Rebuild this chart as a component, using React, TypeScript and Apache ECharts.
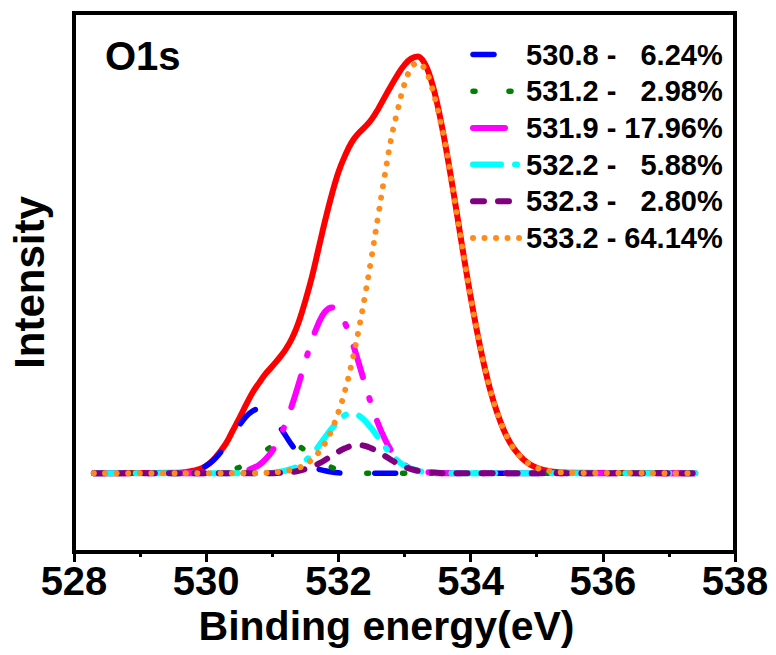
import React, { useEffect, useRef } from "react";
import * as echarts from "echarts";

// Binding energy grid (eV)
const energy = [
  528.3,
  529.6, 529.7, 529.8, 529.9, 530.0, 530.1, 530.2, 530.3, 530.4, 530.5,
  530.6, 530.7, 530.8, 530.9, 531.0, 531.1, 531.2, 531.3, 531.4, 531.5,
  531.6, 531.7, 531.8, 531.9, 532.0, 532.1, 532.2, 532.3, 532.4, 532.5,
  532.6, 532.7, 532.8, 532.9, 533.0, 533.1, 533.2, 533.3, 533.4, 533.5,
  533.6, 533.7, 533.8, 533.9, 534.0, 534.1, 534.2, 534.3, 534.4, 534.5,
  534.6, 534.7, 534.8, 534.9, 535.0, 535.1, 535.2, 535.3, 535.4, 535.5,
  537.4,
];

// Envelope (sum fit)
const envelope = [
  0,
  0.001, 0.003, 0.006, 0.010, 0.018, 0.031, 0.050, 0.072, 0.102, 0.132,
  0.164, 0.194, 0.218, 0.240, 0.258, 0.277, 0.298, 0.326, 0.365, 0.416,
  0.474, 0.542, 0.610, 0.672, 0.726, 0.766, 0.798, 0.819, 0.835, 0.853,
  0.878, 0.907, 0.935, 0.962, 0.985, 1.000, 1.005, 0.990, 0.950, 0.888,
  0.808, 0.717, 0.619, 0.520, 0.426, 0.340, 0.264, 0.199, 0.147, 0.105,
  0.073, 0.050, 0.033, 0.021, 0.013, 0.008, 0.005, 0.003, 0.002, 0.001,
  0,
];

const peak5308 = [
  0,
  0.001, 0.003, 0.006, 0.010, 0.018, 0.030, 0.047, 0.067, 0.091, 0.115,
  0.136, 0.150, 0.155, 0.150, 0.136, 0.115, 0.091, 0.067, 0.047, 0.030,
  0.018, 0.010, 0.006, 0.003, 0.001, 0, 0, 0, 0, 0,
  0, 0, 0, 0, 0, 0, 0, 0, 0, 0,
  0, 0, 0, 0, 0, 0, 0, 0, 0, 0,
  0, 0, 0, 0, 0, 0, 0, 0, 0, 0,
  0,
];

const peak5312 = [
  0,
  0, 0, 0, 0, 0, 0.001, 0.003, 0.005, 0.009, 0.014,
  0.022, 0.032, 0.043, 0.055, 0.065, 0.072, 0.074, 0.072, 0.065, 0.055,
  0.043, 0.032, 0.022, 0.014, 0.009, 0.005, 0.003, 0.001, 0, 0,
  0, 0, 0, 0, 0, 0, 0, 0, 0, 0,
  0, 0, 0, 0, 0, 0, 0, 0, 0, 0,
  0, 0, 0, 0, 0, 0, 0, 0, 0, 0,
  0,
];

const peak5319 = [
  0,
  0, 0, 0, 0, 0, 0, 0, 0, 0.002, 0.003,
  0.006, 0.012, 0.020, 0.034, 0.054, 0.083, 0.120, 0.165, 0.216, 0.270,
  0.320, 0.362, 0.390, 0.400, 0.390, 0.362, 0.320, 0.270, 0.216, 0.165,
  0.120, 0.083, 0.054, 0.034, 0.020, 0.012, 0.006, 0.003, 0.002, 0,
  0, 0, 0, 0, 0, 0, 0, 0, 0, 0,
  0, 0, 0, 0, 0, 0, 0, 0, 0, 0,
  0,
];

const peak5322 = [
  0,
  0, 0, 0, 0, 0, 0, 0, 0, 0, 0,
  0, 0, 0, 0, 0.001, 0.003, 0.006, 0.011, 0.018, 0.030,
  0.045, 0.065, 0.087, 0.108, 0.127, 0.140, 0.145, 0.140, 0.127, 0.108,
  0.087, 0.065, 0.045, 0.030, 0.018, 0.011, 0.006, 0.003, 0.001, 0,
  0, 0, 0, 0, 0, 0, 0, 0, 0, 0,
  0, 0, 0, 0, 0, 0, 0, 0, 0, 0,
  0,
];

const peak5323 = [
  0,
  0, 0, 0, 0, 0, 0, 0, 0, 0, 0,
  0, 0, 0, 0, 0, 0.001, 0.002, 0.003, 0.006, 0.010,
  0.015, 0.023, 0.032, 0.042, 0.052, 0.060, 0.066, 0.068, 0.066, 0.060,
  0.052, 0.042, 0.032, 0.023, 0.015, 0.010, 0.006, 0.003, 0.002, 0.001,
  0, 0, 0, 0, 0, 0, 0, 0, 0, 0,
  0, 0, 0, 0, 0, 0, 0, 0, 0, 0,
  0,
];

const peak5332 = [
  0,
  0, 0, 0, 0, 0, 0, 0, 0, 0, 0,
  0, 0, 0, 0.001, 0.002, 0.003, 0.005, 0.008, 0.013, 0.021,
  0.033, 0.050, 0.073, 0.105, 0.147, 0.199, 0.264, 0.340, 0.426, 0.520,
  0.619, 0.717, 0.808, 0.878, 0.939, 0.977, 0.990, 0.977, 0.939, 0.878,
  0.808, 0.717, 0.619, 0.520, 0.426, 0.340, 0.264, 0.199, 0.147, 0.105,
  0.073, 0.050, 0.033, 0.021, 0.013, 0.008, 0.005, 0.003, 0.002, 0.001,
  0,
];

const legendNames = [
  "530.8 -   6.24%",
  "531.2 -   2.98%",
  "531.9 - 17.96%",
  "532.2 -   5.88%",
  "532.3 -   2.80%",
  "533.2 - 64.14%",
];

const xTicks = { min: 528, max: 538, interval: 2 };

const FONT = "'Liberation Sans', Arial, Helvetica, sans-serif";

export default function App() {
  const ref = useRef<HTMLDivElement>(null);

  useEffect(() => {
    if (!ref.current) return;
    const chart = echarts.init(ref.current, undefined, { renderer: "svg" });
    const pairs = (vals: number[]) => energy.map((e, i) => [e, vals[i]]);

    const mk = (
      name: string,
      vals: number[],
      color: string,
      width: number,
      type: any
    ) => ({
      name,
      type: "line",
      data: pairs(vals),
      showSymbol: false,
      symbol: "none",
      smooth: 0.4,
      lineStyle: { color, width, type, cap: "round", join: "round" },
      itemStyle: { color },
      z: 3,
    });

    chart.setOption({
      animation: false,
      backgroundColor: "#ffffff",
      title: {
        text: "O1s",
        left: 100,
        top: 31,
        textStyle: {
          fontFamily: FONT,
          fontWeight: "bold",
          fontSize: 40,
          color: "#000",
        },
      },
      legend: {
        data: legendNames,
        orient: "vertical",
        left: 465,
        top: 35,
        itemWidth: 48,
        itemHeight: 14,
        itemGap: 7.7,
        itemStyle: { color: "rgba(0,0,0,0)", borderWidth: 0, opacity: 0 },
        lineStyle: { width: "inherit", type: "inherit", cap: "inherit", opacity: 1 },
        textStyle: {
          fontFamily: FONT,
          fontWeight: "bold",
          fontSize: 29,
          lineHeight: 29,
          color: "#000",
        },
      },
      grid: {
        left: 74,
        top: 13,
        width: 661,
        height: 539,
        show: true,
        borderColor: "#000",
        borderWidth: 4,
        backgroundColor: "transparent",
      },
      xAxis: {
        type: "value",
        min: xTicks.min,
        max: xTicks.max,
        interval: xTicks.interval,
        name: "Binding energy(eV)",
        nameLocation: "middle",
        nameGap: 37,
        nameTextStyle: {
          fontFamily: FONT,
          fontWeight: "bold",
          fontSize: 41,
          color: "#000",
          padding: [0, 36, 0, 0],
        },
        axisLine: { show: true, onZero: false, lineStyle: { color: "#000", width: 4 } },
        axisTick: { show: true, inside: false, length: 10, lineStyle: { color: "#000", width: 3 } },
        minorTick: { show: true, splitNumber: 2, length: 5, lineStyle: { color: "#000", width: 3 } },
        axisLabel: {
          fontFamily: FONT,
          fontWeight: "bold",
          fontSize: 40,
          color: "#000",
          margin: 9,
        },
        splitLine: { show: false },
      },
      yAxis: {
        type: "value",
        min: -0.19,
        max: 1.11,
        name: "Intensity",
        nameLocation: "middle",
        nameGap: 24,
        nameTextStyle: {
          fontFamily: FONT,
          fontWeight: "bold",
          fontSize: 42,
          color: "#000",
        },
        axisLine: { show: true, onZero: false, lineStyle: { color: "#000", width: 4 } },
        axisTick: { show: false },
        axisLabel: { show: false },
        splitLine: { show: false },
      },
      series: [
        { ...mk("Envelope", envelope, "#ff0000", 6, "solid"), z: 2 },
        mk(legendNames[0], peak5308, "#0000ff", 5.5, [21, 35]),
        mk(legendNames[1], peak5312, "#008000", 5.5, [2, 34]),
        mk(legendNames[2], peak5319, "#ff00ff", 6, [32, 22, 2, 22]),
        mk(legendNames[3], peak5322, "#00ffff", 6, [28, 14, 2, 14]),
        mk(legendNames[4], peak5323, "#800080", 6, [11, 14]),
        { ...mk(legendNames[5], peak5332, "#ff8c1a", 6, [0.01, 11.5]), z: 4 },
      ],
    });

    return () => chart.dispose();
  }, []);

  return (
    <div
      ref={ref}
      style={{ position: "fixed", left: 0, top: 0, width: 776, height: 655 }}
    />
  );
}
